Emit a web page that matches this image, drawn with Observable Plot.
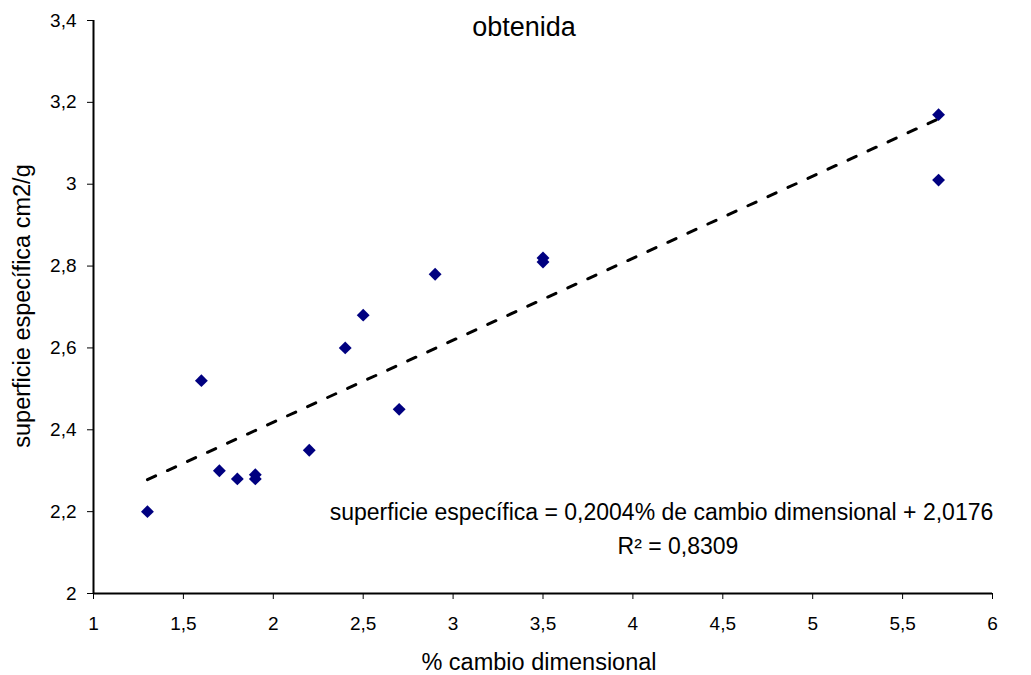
<!DOCTYPE html>
<html>
<head>
<meta charset="utf-8">
<script src="https://cdn.jsdelivr.net/npm/d3@7"></script>
<script src="https://cdn.jsdelivr.net/npm/@observablehq/plot@0.6"></script>
<style>
  html, body { margin: 0; padding: 0; background: #fff; }
  #chart svg { display: block; }
</style>
</head>
<body>
<div id="chart"></div>
<script>
// Data
const cambio = [1.3, 1.6, 1.7, 1.8, 1.9, 1.9, 2.2, 2.4, 2.5, 2.7, 2.9, 3.5, 3.5, 5.7, 5.7];
const superficie = [2.20, 2.52, 2.30, 2.28, 2.29, 2.28, 2.35, 2.60, 2.68, 2.45, 2.78, 2.82, 2.81, 3.17, 3.01];
const pendiente = 0.2004;
const intercepto = 2.0176;
const r2 = 0.8309;
const xTicks = [1, 1.5, 2, 2.5, 3, 3.5, 4, 4.5, 5, 5.5, 6];
const yTicks = [2, 2.2, 2.4, 2.6, 2.8, 3, 3.2, 3.4];
const title = "obtenida";
const xLabel = "% cambio dimensional";
const yLabel = "superficie específica cm2/g";

const coma = v => String(+(+v).toFixed(4)).replace(".", ",");
const puntos = cambio.map((x, i) => ({x, y: superficie[i]}));
const tendencia = d3.extent(cambio).map(x => ({x, y: intercepto + pendiente * x}));
const eq1 = `superficie específica = ${coma(pendiente)}% de cambio dimensional + ${coma(intercepto)}`;
const eq2 = `R² = ${coma(r2)}`;

const font = "'Liberation Sans', Arial, sans-serif";

const chart = Plot.plot({
  width: 1031,
  height: 675,
  marginLeft: 93,
  marginRight: 39,
  marginTop: 20,
  marginBottom: 82,
  style: {fontFamily: font, color: "#000", background: "#fff", overflow: "visible"},
  x: {domain: [1, 6]},
  y: {domain: [2, 3.4]},
  marks: [
    Plot.axisX({ticks: xTicks, tickFormat: coma, tickSize: 6, tickPadding: 17, fontSize: 19, label: null, stroke: "#000"}),
    Plot.axisY({ticks: yTicks, tickFormat: coma, tickSize: 6, tickPadding: 11, fontSize: 19, label: null, stroke: "#000"}),
    Plot.ruleY([2], {stroke: "#000", strokeWidth: 2}),
    Plot.ruleX([1], {stroke: "#000", strokeWidth: 2}),
    Plot.line(tendencia, {x: "x", y: "y", stroke: "#000", strokeWidth: 3, strokeDasharray: "9,13"}),
    Plot.dot(puntos, {x: "x", y: "y", symbol: "diamond2", r: 5.8, fill: "#000080", stroke: "none"}),
    Plot.text([title], {frameAnchor: "top", text: d => d, dx: -19, dy: 15, lineAnchor: "bottom", textAnchor: "middle", fontSize: 27, fill: "#000"}),
    Plot.text([eq1], {frameAnchor: "bottom", text: d => d, dx: 118.5, dy: -74, lineAnchor: "bottom", textAnchor: "middle", fontSize: 23, fill: "#000"}),
    Plot.text([eq2], {frameAnchor: "bottom", text: d => d, dx: 135, dy: -40, lineAnchor: "bottom", textAnchor: "middle", fontSize: 23, fill: "#000"}),
    Plot.text([xLabel], {frameAnchor: "bottom", text: d => d, dx: -4, dy: 76, lineAnchor: "bottom", textAnchor: "middle", fontSize: 23.5, fill: "#000"}),
    Plot.text([yLabel], {frameAnchor: "left", text: d => d, rotate: -90, dx: -64, dy: -1, lineAnchor: "bottom", textAnchor: "middle", fontSize: 23.5, fill: "#000"})
  ]
});
document.getElementById("chart").append(chart);
</script>
</body>
</html>
